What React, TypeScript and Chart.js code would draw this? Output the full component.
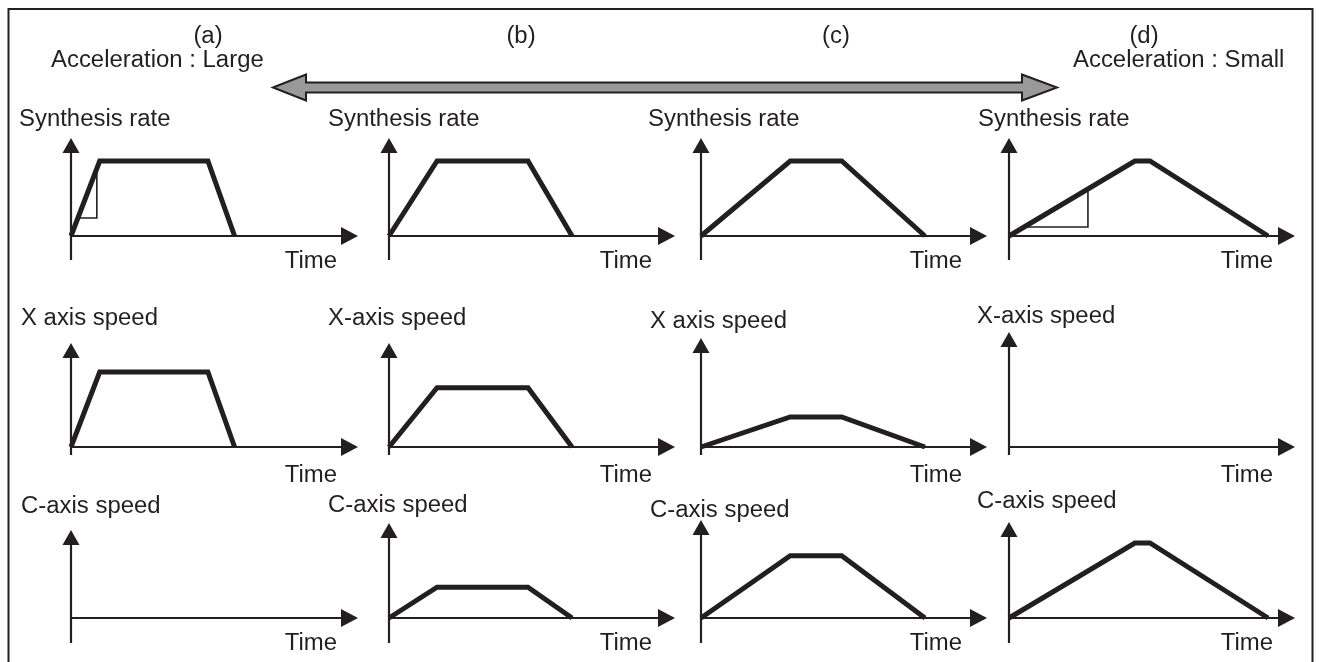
import React, { useEffect, useRef } from "react";
import { Chart, registerables } from "chart.js";

Chart.register(...registerables);

// ---------- content ----------
const caseLabels = ["(a)", "(b)", "(c)", "(d)"];
const accelerationLarge = "Acceleration : Large";
const accelerationSmall = "Acceleration : Small";
const timeLabel = "Time";
const synthesisTitles = ["Synthesis rate", "Synthesis rate", "Synthesis rate", "Synthesis rate"];
const xAxisTitles = ["X axis speed", "X-axis speed", "X axis speed", "X-axis speed"];
const cAxisTitles = ["C-axis speed", "C-axis speed", "C-axis speed", "C-axis speed"];

// corner times of each profile: start, end of acceleration, start of deceleration, stop
const cornerTimesA = [0, 1.0, 4.77, 5.7];
const cornerTimesB = [0, 1.68, 4.86, 6.4];
const cornerTimesC = [0, 3.12, 4.92, 7.83];
const cornerTimesD = [0, 4.4, 4.93, 9.06];

// speed at each corner, per case (a)..(d)
const synthesisRate = [
  [0, 100, 100, 0],
  [0, 100, 100, 0],
  [0, 100, 100, 0],
  [0, 100, 100, 0],
];
const xAxisSpeed = [
  [0, 100, 100, 0],
  [0, 79, 79, 0],
  [0, 40, 40, 0],
  [0, 0, 0, 0],
];
const cAxisSpeed = [
  [0, 0, 0, 0],
  [0, 41, 41, 0],
  [0, 83, 83, 0],
  [0, 100, 100, 0],
];

// acceleration triangles under the synthesis-rate ramp of (a) and (d)
const slopeTriangleA = { time: [0.24, 0.9, 0.9], level: [24, 24, 90] };
const slopeTriangleD = { time: [0.53, 2.76, 2.76], level: [12, 12, 62.7] };

const TIME_MAX = 10;

// ---------- styling / layout ----------
const INK = "#231f20";
const FONT = '23px "Liberation Sans", Arial, sans-serif';
const TEXT_STRETCH = 1.04;
const PX_PER_UNIT = 0.75; // vertical pixels per speed unit

const colOriginX = [71, 389, 701, 1009];
const colArrowX = [358, 675, 987, 1295];
const rowOriginY = [236, 447, 618];
const arrowTipY = [
  [138, 138, 138, 138],
  [343, 343, 338, 332],
  [530, 523, 520, 522],
];
const axisTail = [24, 8, 25];
const titleLeft = [
  [19, 328, 648, 978],
  [21, 328, 650, 977],
  [21, 328, 650, 977],
];
const titleBaseline = [
  [126, 126, 126, 126],
  [325, 325, 328, 323],
  [513, 512, 517, 508],
];
const timeRight = [337, 652, 962, 1273];
const timeBaseline = [268, 482, 650];

const colCellLeft = [9, 316, 632, 950];
const colCellRight = [372, 690, 1002, 1310];
const rowCellTop = [100, 292, 487];
const rowCellBottom = [285, 488, 662];

function drawText(ctx: CanvasRenderingContext2D, text: string, x: number, y: number, align: CanvasTextAlign) {
  ctx.save();
  ctx.translate(x, y);
  ctx.scale(TEXT_STRETCH, 1);
  ctx.font = FONT;
  ctx.fillStyle = INK;
  ctx.textAlign = align;
  ctx.textBaseline = "alphabetic";
  ctx.fillText(text, 0, 0);
  ctx.restore();
}

// axes with arrowheads plus the axis captions of one small plot
const panelAxesPlugin = {
  id: "panelAxes",
  beforeDatasetsDraw(chart: any, _args: any, opts: any) {
    const ctx: CanvasRenderingContext2D = chart.ctx;
    const xs = chart.scales.x;
    const ys = chart.scales.y;
    const ox = xs.getPixelForValue(0);
    const oy = ys.getPixelForValue(0);
    const tipX = xs.getPixelForValue(xs.max);
    const tipY = ys.getPixelForValue(ys.max);
    ctx.save();
    ctx.strokeStyle = INK;
    ctx.fillStyle = INK;
    ctx.lineWidth = 2.2;
    ctx.lineCap = "butt";
    // vertical axis
    ctx.beginPath();
    ctx.moveTo(ox, oy + opts.tail);
    ctx.lineTo(ox, tipY + 12);
    ctx.stroke();
    ctx.beginPath();
    ctx.moveTo(ox, tipY);
    ctx.lineTo(ox - 8.5, tipY + 15);
    ctx.lineTo(ox + 8.5, tipY + 15);
    ctx.closePath();
    ctx.fill();
    // time axis
    ctx.beginPath();
    ctx.moveTo(ox, oy);
    ctx.lineTo(tipX - 14, oy);
    ctx.stroke();
    ctx.beginPath();
    ctx.moveTo(tipX, oy);
    ctx.lineTo(tipX - 17, oy - 9);
    ctx.lineTo(tipX - 17, oy + 9);
    ctx.closePath();
    ctx.fill();
    ctx.restore();
    drawText(ctx, opts.title, opts.titleX, opts.titleY, "left");
    drawText(ctx, timeLabel, opts.timeX, opts.timeY, "right");
  },
};

// outer frame, case headings and the acceleration arrow
const framePlugin = {
  id: "frame",
  afterDraw(chart: any) {
    const ctx: CanvasRenderingContext2D = chart.ctx;
    ctx.save();
    ctx.strokeStyle = INK;
    ctx.lineWidth = 2;
    ctx.strokeRect(8.5, 9, 1304, 665);

    const headCenters = [208, 521, 836, 1144];
    caseLabels.forEach((t, i) => drawText(ctx, t, headCenters[i], 42.5, "center"));
    drawText(ctx, accelerationLarge, 51, 66.5, "left");
    drawText(ctx, accelerationSmall, 1073, 67, "left");

    const cy = 87.5;
    ctx.beginPath();
    ctx.moveTo(273, cy);
    ctx.lineTo(306, cy - 13);
    ctx.lineTo(306, cy - 5);
    ctx.lineTo(1022, cy - 5);
    ctx.lineTo(1022, cy - 13);
    ctx.lineTo(1057, cy);
    ctx.lineTo(1022, cy + 13);
    ctx.lineTo(1022, cy + 5);
    ctx.lineTo(306, cy + 5);
    ctx.lineTo(306, cy + 13);
    ctx.closePath();
    ctx.fillStyle = "#999999";
    ctx.fill();
    ctx.lineWidth = 2;
    ctx.lineJoin = "miter";
    ctx.stroke();
    ctx.restore();
  },
};

type PanelSpec = {
  key: string;
  left: number;
  top: number;
  width: number;
  height: number;
  padding: { left: number; right: number; top: number; bottom: number };
  yMax: number;
  times: number[];
  levels: number[];
  triangle?: { time: number[]; level: number[] };
  title: string;
  titleX: number;
  titleY: number;
  timeX: number;
  timeY: number;
  tail: number;
};

const rowTitles = [synthesisTitles, xAxisTitles, cAxisTitles];
const rowSpeeds = [synthesisRate, xAxisSpeed, cAxisSpeed];
const caseTimes = [cornerTimesA, cornerTimesB, cornerTimesC, cornerTimesD];
const rowTriangles: (typeof slopeTriangleA | undefined)[][] = [
  [slopeTriangleA, undefined, undefined, slopeTriangleD],
  [undefined, undefined, undefined, undefined],
  [undefined, undefined, undefined, undefined],
];

const panels: PanelSpec[] = [];
for (let r = 0; r < 3; r++) {
  for (let c = 0; c < 4; c++) {
    const left = colCellLeft[c];
    const top = rowCellTop[r];
    const width = colCellRight[c] - left;
    const height = rowCellBottom[r] - top;
    const ox = colOriginX[c];
    const oy = rowOriginY[r];
    const tx = colArrowX[c];
    const ty = arrowTipY[r][c];
    panels.push({
      key: `${r}-${c}`,
      left,
      top,
      width,
      height,
      padding: { left: ox - left, right: left + width - tx, top: ty - top, bottom: top + height - oy },
      yMax: (oy - ty) / PX_PER_UNIT,
      times: caseTimes[c],
      levels: rowSpeeds[r][c],
      triangle: rowTriangles[r][c],
      title: rowTitles[r][c],
      titleX: titleLeft[r][c] - left,
      titleY: titleBaseline[r][c] - top,
      timeX: timeRight[c] - left,
      timeY: timeBaseline[r] - top,
      tail: axisTail[r],
    });
  }
}

function SpeedPlot({ spec }: { spec: PanelSpec }) {
  const ref = useRef<HTMLCanvasElement>(null);
  useEffect(() => {
    const moving = spec.levels.some((v) => v !== 0);
    const datasets: any[] = [
      {
        data: moving ? spec.times.map((t, i) => ({ x: t, y: spec.levels[i] })) : [],
        borderColor: INK,
        borderWidth: 5,
        pointRadius: 0,
        borderJoinStyle: "miter",
        borderCapStyle: "butt",
        tension: 0,
        fill: false,
        clip: false,
      },
    ];
    if (spec.triangle) {
      const tri = spec.triangle;
      datasets.push({
        data: tri.time.map((t, i) => ({ x: t, y: tri.level[i] })),
        borderColor: INK,
        borderWidth: 1.6,
        pointRadius: 0,
        borderJoinStyle: "miter",
        tension: 0,
        fill: false,
        clip: false,
      });
    }
    const chart = new Chart(ref.current!, {
      type: "line",
      data: { datasets },
      options: {
        responsive: false,
        animation: false,
        events: [],
        layout: { padding: spec.padding },
        scales: {
          x: { type: "linear", min: 0, max: TIME_MAX, display: false },
          y: { type: "linear", min: 0, max: spec.yMax, display: false },
        },
        plugins: {
          legend: { display: false },
          tooltip: { enabled: false },
          panelAxes: {
            title: spec.title,
            titleX: spec.titleX,
            titleY: spec.titleY,
            timeX: spec.timeX,
            timeY: spec.timeY,
            tail: spec.tail,
          },
        } as any,
      },
      plugins: [panelAxesPlugin],
    });
    return () => chart.destroy();
  }, [spec]);
  return (
    <canvas
      ref={ref}
      width={spec.width}
      height={spec.height}
      style={{ position: "absolute", left: spec.left, top: spec.top, width: spec.width, height: spec.height }}
    />
  );
}

function Frame() {
  const ref = useRef<HTMLCanvasElement>(null);
  useEffect(() => {
    const chart = new Chart(ref.current!, {
      type: "line",
      data: { datasets: [] },
      options: {
        responsive: false,
        animation: false,
        events: [],
        scales: { x: { display: false }, y: { display: false } },
        plugins: { legend: { display: false }, tooltip: { enabled: false } },
      },
      plugins: [framePlugin],
    });
    return () => chart.destroy();
  }, []);
  return (
    <canvas
      ref={ref}
      width={1319}
      height={662}
      style={{ position: "absolute", left: 0, top: 0, width: 1319, height: 662 }}
    />
  );
}

export default function App() {
  return (
    <div style={{ position: "absolute", left: 0, top: 0, width: 1319, height: 662, background: "#ffffff", overflow: "hidden" }}>
      <Frame />
      {panels.map((p) => (
        <SpeedPlot key={p.key} spec={p} />
      ))}
    </div>
  );
}
